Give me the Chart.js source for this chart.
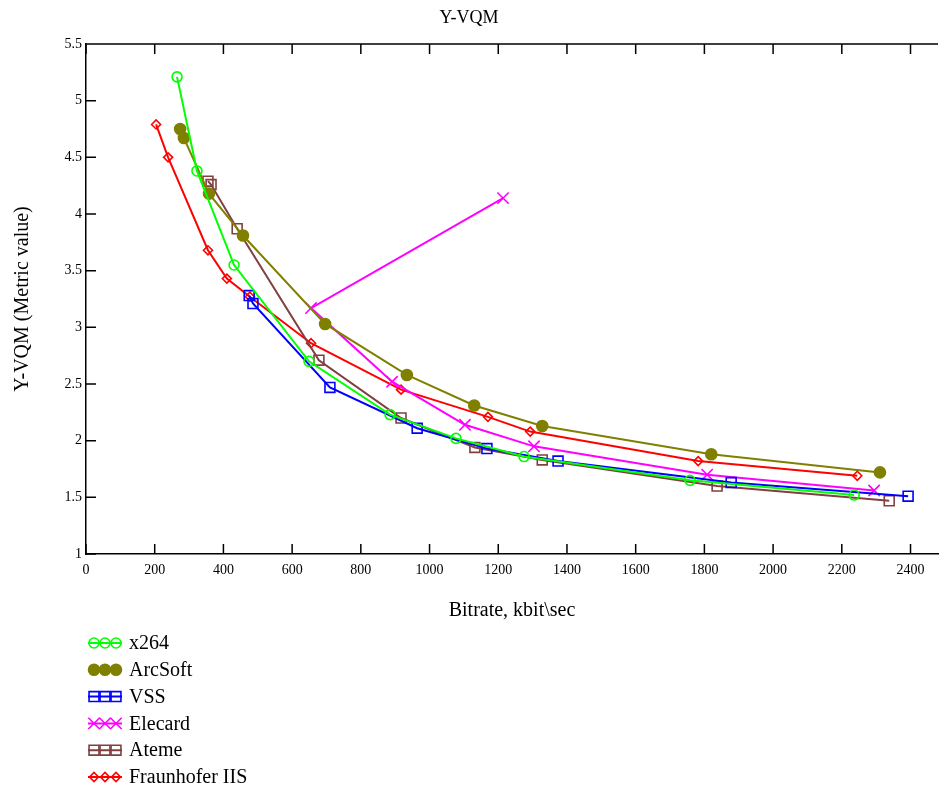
<!DOCTYPE html>
<html>
<head>
<meta charset="utf-8">
<title>Y-VQM</title>
<script src="https://cdn.jsdelivr.net/npm/chart.js@4/dist/chart.umd.min.js"></script>
<style>
    html, body { margin: 0; padding: 0; background: #fff; }
    #vqmChart { display: block; }
</style>
</head>
<body>
<canvas id="vqmChart" width="939" height="789"></canvas>
<script>
// Values (bitrate in kbit/s, Y-VQM metric)
const x264Bitrate = [265, 323, 431, 649, 885, 1077, 1275, 1758, 2236];
const x264Metric = [5.21, 4.38, 3.55, 2.70, 2.23, 2.02, 1.86, 1.65, 1.52];

const arcsoftBitrate = [274, 285, 358, 457, 696, 934, 1130, 1328, 1820, 2311];
const arcsoftMetric = [4.75, 4.67, 4.18, 3.81, 3.03, 2.58, 2.31, 2.13, 1.88, 1.72];

const vssBitrate = [475, 486, 710, 964, 1167, 1374, 1878, 2393];
const vssMetric = [3.28, 3.21, 2.47, 2.11, 1.93, 1.82, 1.63, 1.51];

const elecardBitrate = [1214, 655, 891, 1103, 1304, 1808, 2294];
const elecardMetric = [4.14, 3.17, 2.52, 2.14, 1.95, 1.70, 1.56];

const atemeBitrate = [355, 364, 440, 678, 917, 1132, 1328, 1837, 2338];
const atemeMetric = [4.29, 4.26, 3.87, 2.71, 2.20, 1.94, 1.83, 1.60, 1.47];

const fraunhoferBitrate = [204, 239, 355, 410, 477, 655, 917, 1170, 1293, 1782, 2245];
const fraunhoferMetric = [4.79, 4.50, 3.68, 3.43, 3.27, 2.86, 2.45, 2.21, 2.08, 1.82, 1.69];

const seriesNames = ['x264', 'ArcSoft', 'VSS', 'Elecard', 'Ateme', 'Fraunhofer IIS'];

const xMin = 0, xMax = 2480, xStep = 200;
const yMin = 1, yMax = 5.5, yStep = 0.5;

function toPoints(xs, ys) {
    return xs.map((v, i) => ({ x: v, y: ys[i] }));
}

function makeSeries(label, xs, ys, color, style, radius, filled) {
    return {
        label: label,
        data: toPoints(xs, ys),
        showLine: true,
        borderColor: color,
        borderWidth: 2,
        tension: 0,
        pointStyle: style,
        pointRadius: radius,
        pointHoverRadius: radius,
        pointBorderColor: color,
        pointBackgroundColor: filled ? color : 'rgba(0,0,0,0)',
        pointBorderWidth: 1.6
    };
}

// inward tick marks on left/bottom/top, plus the top frame line
const frameTicks = {
    id: 'frameTicks',
    afterDraw(chart) {
        const ctx = chart.ctx;
        const { left, right, top, bottom } = chart.chartArea;
        const xs = chart.scales.x, ys = chart.scales.y;
        const len = 10;
        ctx.save();
        ctx.strokeStyle = '#000';
        ctx.lineWidth = 1.5;
        ctx.beginPath();
        ctx.moveTo(left, top);
        ctx.lineTo(right, top);
        xs.ticks.forEach(t => {
            const px = xs.getPixelForValue(t.value);
            ctx.moveTo(px, bottom);
            ctx.lineTo(px, bottom - len);
            ctx.moveTo(px, top);
            ctx.lineTo(px, top + len);
        });
        ys.ticks.forEach(t => {
            const py = ys.getPixelForValue(t.value);
            ctx.moveTo(left, py);
            ctx.lineTo(left + len, py);
        });
        ctx.stroke();
        ctx.restore();
    }
};

// vertical legend under the x axis title
const stackedLegend = {
    id: 'stackedLegend',
    afterDraw(chart) {
        const ctx = chart.ctx;
        const startY = 643, rowGap = 26.8;
        ctx.save();
        chart.data.datasets.forEach((ds, i) => {
            const y = startY + i * rowGap;
            ctx.strokeStyle = ds.borderColor;
            ctx.lineWidth = 2;
            ctx.beginPath();
            ctx.moveTo(88, y);
            ctx.lineTo(122, y);
            ctx.stroke();
            [94, 105, 116].forEach(mx => {
                ctx.strokeStyle = ds.pointBorderColor;
                ctx.fillStyle = ds.pointBackgroundColor;
                ctx.lineWidth = ds.pointBorderWidth;
                Chart.helpers.drawPoint(ctx, {
                    pointStyle: ds.pointStyle,
                    radius: ds.pointRadius,
                    rotation: 0,
                    borderWidth: ds.pointBorderWidth
                }, mx, y);
            });
            ctx.fillStyle = '#000';
            ctx.font = "20px 'Liberation Serif', serif";
            ctx.textAlign = 'left';
            ctx.textBaseline = 'middle';
            ctx.fillText(ds.label, 129, y + 1);
        });
        ctx.restore();
    }
};

document.addEventListener('DOMContentLoaded', () => {
    Chart.defaults.font.family = "'Liberation Serif', 'DejaVu Serif', serif";
    Chart.defaults.color = '#000';

    const ctx = document.getElementById('vqmChart').getContext('2d');
    new Chart(ctx, {
        type: 'scatter',
        data: {
            datasets: [
                makeSeries(seriesNames[0], x264Bitrate, x264Metric, '#00ff00', 'circle', 5, false),
                makeSeries(seriesNames[1], arcsoftBitrate, arcsoftMetric, '#808000', 'circle', 5.5, true),
                makeSeries(seriesNames[2], vssBitrate, vssMetric, '#0000ff', 'rect', 7, false),
                makeSeries(seriesNames[3], elecardBitrate, elecardMetric, '#ff00ff', 'crossRot', 8, false),
                makeSeries(seriesNames[4], atemeBitrate, atemeMetric, '#804040', 'rect', 7, false),
                makeSeries(seriesNames[5], fraunhoferBitrate, fraunhoferMetric, '#ff0000', 'rectRot', 4.5, false)
            ]
        },
        options: {
            responsive: false,
            animation: false,
            layout: { autoPadding: false, padding: { left: 0, right: 1, top: 0, bottom: 166 } },
            plugins: {
                legend: { display: false },
                tooltip: { enabled: false },
                title: {
                    display: true,
                    text: 'Y-VQM',
                    color: '#000',
                    font: { size: 18, weight: 'normal' },
                    padding: { top: 7, bottom: 15.4 }
                }
            },
            scales: {
                x: {
                    type: 'linear',
                    min: xMin,
                    max: xMax,
                    afterFit: s => {
                        s.height = 69;
                        s.paddingLeft = 0;
                        s.paddingRight = 0;
                    },
                    border: { display: true, color: '#000', width: 1.5 },
                    grid: { display: true, drawOnChartArea: false, drawTicks: false },
                    ticks: {
                        stepSize: xStep,
                        includeBounds: false,
                        padding: 8,
                        maxRotation: 0,
                        autoSkip: false,
                        font: { size: 14 },
                        callback: v => String(v)
                    },
                    title: {
                        display: true,
                        text: 'Bitrate, kbit\\sec',
                        font: { size: 20 },
                        padding: { top: 0, bottom: 0 }
                    }
                },
                y: {
                    type: 'linear',
                    min: yMin,
                    max: yMax,
                    afterFit: s => {
                        s.width = 86;
                        s.paddingTop = 0;
                        s.paddingBottom = 0;
                    },
                    border: { display: true, color: '#000', width: 1.5 },
                    grid: { display: true, drawOnChartArea: false, drawTicks: false },
                    ticks: {
                        stepSize: yStep,
                        padding: 4,
                        font: { size: 14 },
                        callback: v => String(v)
                    },
                    title: {
                        display: true,
                        text: 'Y-VQM (Metric value)',
                        font: { size: 20 },
                        padding: { top: 11, bottom: 0 }
                    }
                }
            }
        },
        plugins: [frameTicks, stackedLegend]
    });
});
</script>
</body>
</html>
